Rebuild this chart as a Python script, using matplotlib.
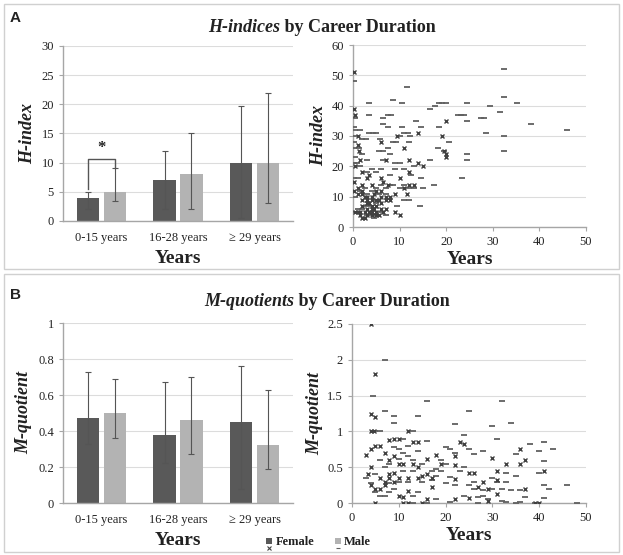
import matplotlib
matplotlib.use("Agg")
import matplotlib.pyplot as plt
import numpy as np
from matplotlib.patches import Rectangle
from matplotlib.lines import Line2D
from matplotlib.text import Annotation

plt.rcParams['font.family'] = ['Liberation Serif', 'DejaVu Serif']

# ---------------- data ----------------
categories = ["0-15 years", "16-28 years", "\u2265 29 years"]

h_female = [4, 7, 10]
h_female_lo = [2, 2, 0.5]
h_female_hi = [5, 12, 19.7]
h_male = [5, 8, 10]
h_male_lo = [3.5, 2, 3]
h_male_hi = [9, 15, 22]

m_female = [0.47, 0.38, 0.45]
m_female_lo = [0.33, 0.22, 0.08]
m_female_hi = [0.73, 0.67, 0.76]
m_male = [0.50, 0.46, 0.32]
m_male_lo = [0.36, 0.27, 0.19]
m_male_hi = [0.69, 0.70, 0.63]

h_scatter_female = [(0.2,51),(0.2,39),(0.4,37),(0.3,15),(0.3,12),(1,30),(1.2,25),(1.5,22),(2,18),(2,12),
    (2.5,10),(3,9),(3,6),(3.5,8),(3.5,17),(4,5),(4,10),(4.5,11),(5,4),(5,7),(5.5,9),(6,16),(6,12),(6,28),
    (6.5,15),(7,22),(7,10),(7.5,14),(8,10),(9,5),(9,11),(9.5,30),(10,4),(10,16),(11,26),(11,13),(11.5,11),
    (12,22),(12,18),(12,14),(13,14),(14,31),(14,21),(15,20),(19,30),(19.5,25),(20,35),(20,24),(20,23),
    (1,5),(1.5,4),(2,3),(2.5,5),(3,8),(3,4),(4,6),(4,9),(5,5),(5,12),(6,6),(6,10),(2,7),(3,8),(4,4),(5,7),
    (1,13),(2,11),(3,10),(4,7),(5,9),(6,8),(7,9),(0.5,20),(1,27),(2,9),(1.5,5),(2.5,3),(3.5,5),(4.5,6),
    (5.5,4),(6.5,5),(7,6),(8,9),(3,16),(4,14),(2,14),(0.5,5),(1,11)]

h_scatter_male = [(32.3,52),(0.3,48),(11.5,46),(8.5,42),(3.5,41),(10.5,41),(18.5,41),(19.2,41),(19.9,41),
    (24.5,41),(35.3,41),(32.3,43),(29.5,40),(17.5,40),(16.5,39),(31.5,38),(3.5,37),(7.5,37),(8.2,37),
    (22.5,37),(23.2,37),(23.9,37),(0.5,36),(6.5,36),(27.5,36),(28.2,36),(24.5,35),(13.5,35),(6.5,34),
    (38.3,34),(7.5,33),(10.5,33),(14.5,33),(18.5,33),(46,32),(0.5,32),(1.5,32),(32.3,30),(28.5,31),
    (3.5,31),(4.2,31),(4.9,31),(2,29),(2.8,29),(8.5,28),(9.3,28),(20.5,28),(5.8,29),(10,30),(11,31),
    (11.7,31),(12.2,30),(32.3,25),(24.5,24),(24.5,22),(23.3,16),(17.3,14),(14.3,7),(19.5,25),(16.5,22),
    (18.3,26),(0.3,26),(1.2,26),(0.5,23),(2,24),(5.5,25),(6.5,25),(7.5,26),(9,21),(10,21),(11,19),(13,20),
    (14.5,16),(8,17),(9,19),(6,19),(4,19),(3,18),(5,18),(0.3,16),(1,16),(0.5,10),(1.5,12),(2.5,13),(3,11),
    (4,12),(5,13),(6,14),(7,13),(8,14),(8.5,14),(10,13),(11,14),(12,13),(13,13),(11,9),(12,9),(9.5,7),
    (3,4),(4,4),(5,4),(6,5),(7,4),(2,6),(0.3,5),(1,6),(4.5,9),(5.5,11),(7,11),(0.5,30),(0.2,33),(0.3,28),
    (0.3,21),(0.8,21),(1.5,20),(3,22),(6.5,22),(8,24),(12,28),(12.5,17),(15,13),(4.5,3),(2.5,7),(3.8,7),(5,8)]

m_scatter_female = [(4,2.5),(5,1.8),(4,1.25),(5,1.2),(4,1.0),(4.6,1.0),(3,0.67),(4,0.75),(5,0.8),(6,0.8),
    (7,0.7),(8,0.88),(9,0.9),(9,0.65),(10,0.55),(11,0.55),(12,1.0),(14,0.85),(14,0.5),(16,0.62),(18,0.67),
    (16,0.4),(15,0.38),(17,0.23),(19,0.55),(22,0.65),(22,0.53),(22,0.33),(22,0.05),(23,0.85),(24,0.82),
    (25,0.42),(26,0.42),(25,0.07),(27,0.22),(28,0.3),(29,0.2),(29,0.03),(30,0.63),(31,0.45),(31,0.32),
    (33,0.55),(36,0.55),(36,0.75),(37,0.6),(37,0.2),(39,0.0),(41,0.45),(5,0.0),(4,0.5),(4,0.25),(5,0.2),
    (6,0.35),(7,0.3),(8,0.35),(9,0.42),(10,0.1),(11,0.08),(12,0.17),(12,0.0),(15,0.0),(16,0.05),(14,0.35),
    (7,0.25),(8,0.4),(9,0.3),(10,0.35),(11,0.0),(12,0.35),(13,0.55),(6,0.2),(8,0.6),(13,0.85),(3.5,0.4),
    (17,0.35),(10,0.9),(31,0.12),(40,0.0)]

m_scatter_male = [(7,2.0),(4.5,1.5),(16,1.43),(32,1.43),(25,1.28),(7,1.28),(9,1.22),(9,1.12),(14,1.22),
    (22,1.1),(34,1.12),(30,1.07),(31,0.9),(24,0.95),(13,1.0),(16,0.87),(26,0.68),(28,0.72),(20,0.78),
    (21,0.75),(38,0.82),(40,0.72),(41,0.85),(43,0.75),(35,0.68),(46,0.25),(42,0.2),(41,0.25),(41,0.07),
    (41,0.58),(40,0.42),(37,0.08),(36,0.18),(34,0.18),(33,0.3),(33,0.42),(35,0.38),(32,0.2),(31,0.3),
    (30,0.2),(30,0.35),(27,0.08),(28,0.1),(26,0.2),(26,0.3),(25,0.25),(24,0.5),(24,0.1),(25,0.75),(22,0.25),
    (21,0.37),(20,0.28),(19,0.45),(19,0.6),(18,0.05),(18,0.48),(17,0.32),(14,0.15),(13,0.1),(12,0.3),
    (10,0.75),(11,0.7),(12,0.8),(11,0.9),(13,0.6),(13,0.45),(15,0.3),(6,0.6),(7,0.5),(8,0.55),(5,0.4),
    (5,0.15),(6,0.1),(3,0.35),(8,0.15),(9,0.2),(10,0.3),(11,0.45),(48,0.0),(39,0.0),(35,0.0),(33,0.02),
    (27,0.0),(21,0.02),(16,0.0),(13,0.0),(5,1.0),(6,1.0),(9,0.78),(10,0.62),(12,0.65),(14,0.72),(15,0.55),
    (17,0.45),(18,0.38),(20,0.55),(23,0.45),(29,0.05),(32,0.03),(36,0.02),(22,0.7),(28,0.18),(8,0.28),
    (7,0.1),(4,0.28)]

# ---------------- style ----------------
DARK = "#595959"
LIGHT = "#b3b3b3"
GRID = "#dcdcdc"
SPINE = "#a6a6a6"
TXT = "#222222"

W, H = 623, 555
fig = plt.figure(figsize=(W/100, H/100), dpi=100)

def fx(px): return px / W
def fy(py): return 1 - py / H

def style_axes(ax):
    for s in ("top", "right"):
        ax.spines[s].set_visible(False)
    for s in ("left", "bottom"):
        ax.spines[s].set_color(SPINE)
        ax.spines[s].set_linewidth(1.0)
    ax.tick_params(colors=SPINE, labelcolor=TXT, labelsize=9, length=3, width=0.8)
    ax.yaxis.grid(True, color=GRID, lw=0.8)
    ax.set_axisbelow(True)

def bar_panel(ax, fem, flo, fhi, mal, mlo, mhi, ylim, yticks, ylabel):
    x = np.arange(len(categories))
    off, w = 0.175, 0.29
    fem, mal = np.array(fem), np.array(mal)
    ferr = [fem - np.array(flo), np.array(fhi) - fem]
    merr = [mal - np.array(mlo), np.array(mhi) - mal]
    ax.bar(x - off, fem, w, color=DARK, zorder=2)
    ax.bar(x + off, mal, w, color=LIGHT, zorder=2)
    ax.errorbar(x - off, fem, yerr=ferr, fmt='none', ecolor="#555555", elinewidth=0.8, capsize=2, capthick=0.8, zorder=3)
    ax.errorbar(x + off, mal, yerr=merr, fmt='none', ecolor="#555555", elinewidth=0.8, capsize=2, capthick=0.8, zorder=3)
    ax.set_xlim(-0.5, 2.5)
    ax.set_ylim(*ylim)
    ax.set_yticks(yticks)
    ax.set_yticklabels([f"{v:g}" for v in yticks])
    ax.set_xticks(x)
    ax.set_xticklabels(categories)
    style_axes(ax)
    ax.tick_params(axis='x', length=0, pad=8)
    ax.set_xlabel("Years", fontsize=14, fontweight='bold', labelpad=4, color=TXT)
    ax.set_ylabel(ylabel, fontsize=13, fontweight='bold', style='italic', labelpad=4, color=TXT)

def scatter_panel(ax, fem_pts, mal_pts, ylim, yticks, ylabel):
    fxs, fys = zip(*fem_pts)
    mxs, mys = zip(*mal_pts)
    ax.plot(mxs, mys, linestyle='none', marker='_', ms=4.5, mew=1.3, color="#606060", zorder=3)
    ax.plot(fxs, fys, linestyle='none', marker='x', ms=3.5, mew=1.0, color="#404040", zorder=3)
    ax.set_xlim(0, 50)
    ax.set_ylim(*ylim)
    ax.set_xticks([0, 10, 20, 30, 40, 50])
    ax.set_yticks(yticks)
    ax.set_yticklabels([f"{v:g}" for v in yticks])
    style_axes(ax)
    ax.set_xlabel("Years", fontsize=14, fontweight='bold', labelpad=2, color=TXT)
    ax.set_ylabel(ylabel, fontsize=13, fontweight='bold', style='italic', labelpad=3, color=TXT)

# ---------------- panel frames ----------------
fig.add_artist(Rectangle((fx(4), fy(269)), fx(615), fy(4) - fy(269), transform=fig.transFigure,
                         fill=False, ec="#d0d0d0", lw=1.0))
fig.add_artist(Rectangle((fx(4), fy(552)), fx(615), fy(274) - fy(552), transform=fig.transFigure,
                         fill=False, ec="#d0d0d0", lw=1.0))

# ---------------- panel A ----------------
axA1 = fig.add_axes([fx(63), fy(221), fx(293) - fx(63), fy(46) - fy(221)])
bar_panel(axA1, h_female, h_female_lo, h_female_hi, h_male, h_male_lo, h_male_hi,
          (0, 30), [0, 5, 10, 15, 20, 25, 30], "H-index")
xb = np.arange(len(categories))
axA1.plot([xb[0] - 0.175, xb[0] - 0.175, xb[0] + 0.175, xb[0] + 0.175],
          [h_female_hi[0] + 0.5, 10.6, 10.6, h_male_hi[0]], color="#555555", lw=1.0, zorder=4)
axA1.text(xb[0], 11.2, "*", ha='center', va='bottom', fontsize=12, fontweight='bold', color=TXT)

axA2 = fig.add_axes([fx(353), fy(227), fx(586) - fx(353), fy(45) - fy(227)])
scatter_panel(axA2, h_scatter_female, h_scatter_male, (0, 60), [0, 10, 20, 30, 40, 50, 60], "H-index")

# ---------------- panel B ----------------
axB1 = fig.add_axes([fx(63), fy(503), fx(293) - fx(63), fy(323) - fy(503)])
bar_panel(axB1, m_female, m_female_lo, m_female_hi, m_male, m_male_lo, m_male_hi,
          (0, 1), [0, 0.2, 0.4, 0.6, 0.8, 1.0], "M-quotient")

axB2 = fig.add_axes([fx(352), fy(503), fx(586) - fx(352), fy(324) - fy(503)])
scatter_panel(axB2, m_scatter_female, m_scatter_male, (0, 2.5), [0, 0.5, 1, 1.5, 2, 2.5], "M-quotient")

# ---------------- titles / letters ----------------
fig.text(fx(10), fy(18), "A", fontsize=11, fontweight='bold', family='Liberation Sans', va='center', color=TXT)
fig.text(fx(10), fy(295), "B", fontsize=11, fontweight='bold', family='Liberation Sans', va='center', color=TXT)

t1 = fig.text(fx(208), fy(32), "H-indices", fontsize=13, fontweight='bold', style='italic', va='baseline', color=TXT)
fig.add_artist(Annotation(" by Career Duration", xy=(1, 0), xycoords=t1, fontsize=13,
                          fontweight='bold', va='bottom', ha='left', color=TXT, annotation_clip=False))
t3 = fig.text(fx(204), fy(306), "M-quotients", fontsize=13, fontweight='bold', style='italic', va='baseline', color=TXT)
fig.add_artist(Annotation(" by Career Duration", xy=(1, 0), xycoords=t3, fontsize=13,
                          fontweight='bold', va='bottom', ha='left', color=TXT, annotation_clip=False))

# ---------------- legend ----------------
fig.add_artist(Rectangle((fx(266), fy(544)), fx(6), fy(538) - fy(544), transform=fig.transFigure,
                         color=DARK, lw=0))
fig.add_artist(Line2D([fx(269)], [fy(548)], marker='x', ms=2.5, mew=0.8, color="#404040", transform=fig.transFigure))
fig.text(fx(276), fy(542), "Female", fontsize=9, fontweight='bold', va='center', color=TXT)
fig.add_artist(Rectangle((fx(335), fy(544)), fx(6), fy(538) - fy(544), transform=fig.transFigure,
                         color=LIGHT, lw=0))
fig.add_artist(Line2D([fx(338)], [fy(548)], marker='_', ms=3, mew=0.8, color="#606060", transform=fig.transFigure))
fig.text(fx(344), fy(542), "Male", fontsize=9, fontweight='bold', va='center', color=TXT)

fig.savefig("out.png", dpi=100)
